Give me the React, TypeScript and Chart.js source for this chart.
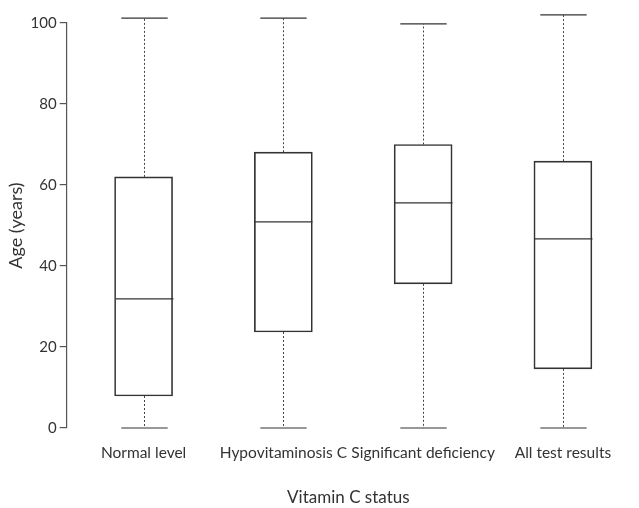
import React, { useEffect, useRef } from "react";
import { Chart, registerables } from "chart.js";

Chart.register(...registerables);

const categories = ["Normal level", "Hypovitaminosis C", "Significant deficiency", "All test results"];
const whiskerMin = [0, 0, 0, 0];
const q1Values = [7.9, 23.7, 35.6, 14.6];
const medianValues = [31.9, 50.9, 55.6, 46.7];
const q3Values = [62, 68.1, 70, 65.9];
const whiskerMax = [101.2, 101.2, 99.8, 102];
const yTicks = [0, 20, 40, 60, 80, 100];

const FONT = "Lato, 'Open Sans', sans-serif";
const INK = "#333333";

const boxPlugin = {
  id: "boxWhiskers",
  afterDatasetsDraw(chart: any) {
    const { ctx, scales } = chart;
    const x = scales.x;
    const y = scales.y;
    const meta = chart.getDatasetMeta(0);
    ctx.save();
    categories.forEach((_, i) => {
      const cx = Math.round(x.getPixelForValue(i)) + 0.5;
      const el = meta.data[i];
      const hw = el ? el.width / 2 : 29;
      const capHw = hw * 0.8;
      ctx.beginPath();
      ctx.setLineDash([2, 2]);
      ctx.strokeStyle = "#444";
      ctx.lineWidth = 1;
      ctx.moveTo(cx, y.getPixelForValue(q3Values[i]));
      ctx.lineTo(cx, y.getPixelForValue(whiskerMax[i]));
      ctx.moveTo(cx, y.getPixelForValue(q1Values[i]));
      ctx.lineTo(cx, y.getPixelForValue(whiskerMin[i]));
      ctx.stroke();
      ctx.setLineDash([]);
      ctx.beginPath();
      ctx.strokeStyle = INK;
      ctx.lineWidth = 1.2;
      const yMax = y.getPixelForValue(whiskerMax[i]);
      const yMin = y.getPixelForValue(whiskerMin[i]);
      const yMed = y.getPixelForValue(medianValues[i]);
      ctx.moveTo(cx - capHw, yMax);
      ctx.lineTo(cx + capHw, yMax);
      ctx.moveTo(cx - capHw, yMin);
      ctx.lineTo(cx + capHw, yMin);
      ctx.moveTo(cx - hw, yMed);
      ctx.lineTo(cx + hw, yMed);
      ctx.stroke();
    });
    ctx.restore();
  },
};

export default function App() {
  const ref = useRef<HTMLCanvasElement | null>(null);
  useEffect(() => {
    if (!ref.current) return;
    const chart = new Chart(ref.current, {
      type: "bar",
      data: {
        datasets: [
          {
            data: categories.map((_, i) => ({ x: i, y: [q1Values[i], q3Values[i]] })) as any,
            backgroundColor: "rgba(255,255,255,0)",
            borderColor: INK,
            borderWidth: 1,
            borderSkipped: false,
            barThickness: 58,
            clip: false as any,
          },
        ],
      },
      options: {
        animation: false,
        responsive: false,
        maintainAspectRatio: false,
        layout: { padding: { top: 23, right: 9, left: 5, bottom: 0 } },
        plugins: { legend: { display: false }, tooltip: { enabled: false } },
        scales: {
          x: {
            type: "linear",
            offset: false,
            min: -0.55,
            max: 3.48,
            grid: { display: false },
            border: { display: false },
            ticks: {
              includeBounds: false,
              autoSkip: false,
              maxRotation: 0,
              padding: 8,
              color: INK,
              font: { family: FONT, size: 15.5 },
              callback: (v: any) => (Number.isInteger(v) && categories[v] ? categories[v] : ""),
            },
            afterBuildTicks: (scale: any) => {
              scale.ticks = categories.map((_, i) => ({ value: i }));
            },
            title: {
              display: true,
              text: "Vitamin C status",
              color: INK,
              font: { family: FONT, size: 17 },
              padding: { top: 17, bottom: 0 },
            },
          },
          y: {
            min: 0,
            max: 100,
            grid: { display: true, drawOnChartArea: false, tickLength: 7, color: "#555", lineWidth: 1.2 },
            border: { display: true, color: "#555", width: 1.2 },
            afterBuildTicks: (scale: any) => {
              scale.ticks = yTicks.map((v) => ({ value: v }));
            },
            ticks: {
              padding: 3,
              color: INK,
              font: { family: FONT, size: 15 },
            },
            title: {
              display: true,
              text: "Age (years)",
              color: INK,
              font: { family: FONT, size: 18 },
              padding: { top: 0, bottom: 1 },
            },
          },
        },
      },
      plugins: [boxPlugin],
    });
    return () => chart.destroy();
  }, []);
  return (
    <div style={{ position: "fixed", left: 0, top: 0, width: 639, height: 508, background: "#fff" }}>
      <canvas ref={ref} width={639} height={508} style={{ display: "block", width: 639, height: 508 }} />
    </div>
  );
}
